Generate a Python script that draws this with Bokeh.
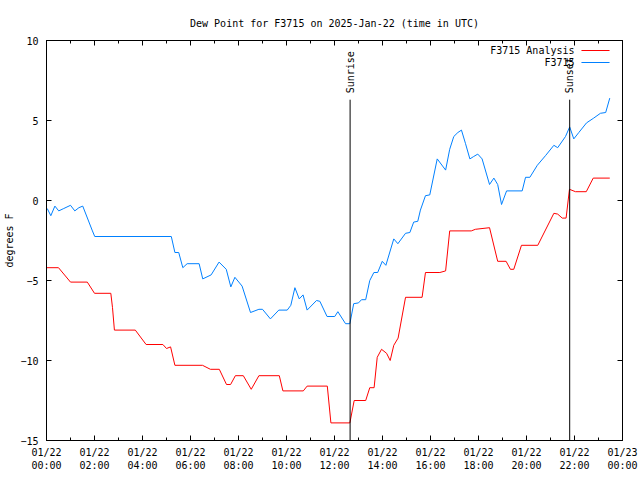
from datetime import datetime, timedelta
import math
from bokeh.plotting import figure
from bokeh.models import (Range1d, LinearAxis, DatetimeAxis, FixedTicker,
                          CustomJSTickFormatter, ColumnDataSource)
from bokeh.core.properties import value
from bokeh.embed import file_html
from bokeh.resources import INLINE

BASE = datetime(2025, 1, 22)

# F3715 Analysis (red): hours after 00:00 UTC, dew point (F)
analysis_hours = [0.0, 0.5, 1.0, 1.7, 2.0, 2.68, 2.75, 2.83, 3.7, 4.15, 4.85, 5.0, 5.17,
                  5.35, 6.5, 6.83, 7.2, 7.5, 7.67, 7.87, 8.2, 8.53, 8.85, 9.7, 9.85,
                  10.7, 10.86, 11.7, 11.85, 12.64, 12.82, 13.3, 13.47, 13.65, 13.78,
                  13.96, 14.17, 14.32, 14.47, 14.65, 14.96, 15.65, 15.79, 16.39, 16.63,
                  16.8, 17.7, 17.87, 18.46, 18.8, 19.15, 19.33, 19.47, 19.79, 20.47,
                  21.14, 21.3, 21.49, 21.65, 21.79, 22.04, 22.49, 22.78, 23.47]
analysis_dew = [-4.2, -4.2, -5.1, -5.1, -5.8, -5.8, -6.7, -8.1, -8.1, -9.0, -9.0, -9.25, -9.15,
                -10.3, -10.3, -10.55, -10.55, -11.5, -11.5, -10.95, -10.95, -11.8, -10.95, -10.95, -11.9,
                -11.9, -11.6, -11.6, -13.9, -13.9, -12.5, -12.5, -11.7, -11.7, -9.8,
                -9.3, -9.55, -10.0, -9.05, -8.6, -6.05, -6.05, -4.5, -4.5, -4.4,
                -1.9, -1.9, -1.8, -1.7, -3.8, -3.8, -4.3, -4.3, -2.8, -2.8,
                -0.8, -0.85, -1.1, -1.1, 0.7, 0.55, 0.55, 1.4, 1.4]

# F3715 observed (blue)
obs_hours = [0.03, 0.18, 0.35, 0.51, 0.72, 1.0, 1.18, 1.35, 1.51, 1.9, 2.01, 5.2, 5.35,
             5.51, 5.68, 5.86, 6.36, 6.51, 6.86, 7.19, 7.49, 7.68, 7.85, 8.15, 8.5,
             8.85, 9.0, 9.33, 9.68, 10.03, 10.18, 10.35, 10.53, 10.69, 10.86, 11.25,
             11.39, 11.69, 12.01, 12.14, 12.46, 12.64, 12.8, 13.0, 13.125, 13.3, 13.47,
             13.64, 13.8, 13.99, 14.14, 14.47, 14.64, 14.96, 15.14, 15.3, 15.47, 15.58,
             15.79, 15.97, 16.28, 16.63, 16.8, 16.97, 17.14, 17.29, 17.46, 17.64, 17.8,
             17.97, 18.15, 18.46, 18.64, 18.8, 18.96, 19.17, 19.82, 19.96, 20.14, 20.45,
             20.79, 21.14, 21.3, 21.625, 21.8, 21.97, 22.18, 22.5, 22.8, 23.08, 23.3, 23.47]
obs_dew = [-0.5, -0.95, -0.35, -0.65, -0.5, -0.3, -0.65, -0.45, -0.35, -1.85, -2.25, -2.25, -3.25,
           -3.25, -4.2, -3.95, -3.95, -4.9, -4.65, -3.85, -4.3, -5.4, -4.8, -5.35, -7.0,
           -6.8, -6.8, -7.4, -6.85, -6.85, -6.55, -5.45, -6.15, -5.9, -6.85, -6.25,
           -6.3, -7.25, -7.25, -6.95, -7.7, -7.7, -6.45, -6.4, -6.2, -6.2, -5.0,
           -4.5, -4.5, -3.8, -4.05, -2.4, -2.7, -2.05, -2.0, -1.35, -1.3, -0.6,
           0.3, 0.35, 2.6, 1.9, 3.2, 4.0, 4.25, 4.4, 3.55, 2.6, 2.75,
           2.9, 2.6, 1.0, 1.4, 1.0, -0.25, 0.6, 0.6, 1.45, 1.45, 2.2,
           2.8, 3.45, 3.3, 4.0, 4.6, 3.85, 4.25, 4.85, 5.15, 5.45, 5.5, 6.4]

sun_hours = [12.65, 21.8]
sun_labels = ["Sunrise", "Sunset"]

series_names = ["F3715 Analysis", "F3715"]
series_colors = ["#ff0000", "#0080ff"]

tick_hours = [0, 2, 4, 6, 8, 10, 12, 14, 16, 18, 20, 22, 24]
tick_labels = ["01/22\n00:00", "01/22\n02:00", "01/22\n04:00", "01/22\n06:00",
               "01/22\n08:00", "01/22\n10:00", "01/22\n12:00", "01/22\n14:00",
               "01/22\n16:00", "01/22\n18:00", "01/22\n20:00", "01/22\n22:00",
               "01/23\n00:00"]
y_ticks = [-15, -10, -5, 0, 5, 10]

EPOCH = datetime(1970, 1, 1)


def to_dt(h):
    return BASE + timedelta(hours=h)


def to_ms(h):
    return (to_dt(h) - EPOCH).total_seconds() * 1000.0


FONT = "DejaVu Sans Mono"
FS = "10px"

p = figure(width=640, height=480, output_backend="svg", toolbar_location=None,
           x_axis_type="datetime",
           x_range=Range1d(to_dt(0), to_dt(24)), y_range=Range1d(-15, 10),
           min_border_left=46, min_border_right=18, min_border_top=40,
           min_border_bottom=40)
p.background_fill_color = "white"
p.border_fill_color = "white"
p.outline_line_color = "black"
p.xgrid.visible = False
p.ygrid.visible = False

p.title.text = "Dew Point for F3715 on 2025-Jan-22 (time in UTC)"
p.title.align = "center"
p.title.text_font = FONT
p.title.text_font_size = FS
p.title.text_font_style = "normal"
p.title.text_color = "black"
p.title.standoff = 24

major_ms = [to_ms(h) for h in tick_hours]
minor_ms = [to_ms(h) for h in range(0, 25)]
xt = FixedTicker(ticks=major_ms, minor_ticks=minor_ms)
yt = FixedTicker(ticks=y_ticks, minor_ticks=[])


def style_axis(ax):
    ax.axis_line_color = "black"
    ax.major_tick_line_color = "black"
    ax.minor_tick_line_color = "black"
    ax.major_tick_in = 5
    ax.major_tick_out = 0
    ax.minor_tick_in = 3
    ax.minor_tick_out = 0
    ax.major_label_text_font = FONT
    ax.major_label_text_font_size = FS
    ax.major_label_text_color = "black"
    ax.axis_label_text_font = FONT
    ax.axis_label_text_font_size = FS
    ax.axis_label_text_font_style = "normal"
    ax.axis_label_text_color = "black"


xa = p.xaxis[0]
xa.ticker = xt
xa.major_label_overrides = {ms: lab for ms, lab in zip(major_ms, tick_labels)}
style_axis(xa)
xa.major_label_standoff = 6

ya = p.yaxis[0]
ya.ticker = yt
style_axis(ya)
ya.axis_label = "degrees F"
ya.major_label_standoff = 8
ya.axis_label_standoff = 2

empty = CustomJSTickFormatter(code="return ''")
top = DatetimeAxis(ticker=xt, formatter=empty)
style_axis(top)
top.major_label_standoff = 0
p.add_layout(top, "above")
right = LinearAxis(ticker=yt, formatter=empty)
style_axis(right)
right.major_label_standoff = 0
p.add_layout(right, "right")

# series
p.line([to_dt(h) for h in analysis_hours], analysis_dew, line_color=series_colors[0], line_width=1)
p.line([to_dt(h) for h in obs_hours], obs_dew, line_color=series_colors[1], line_width=1)

# sunrise / sunset markers
sun_src = ColumnDataSource(dict(x=[to_dt(h) for h in sun_hours],
                                y0=[-15] * len(sun_hours),
                                y1=[6.3] * len(sun_hours),
                                ylab=[6.7] * len(sun_hours),
                                label=sun_labels))
p.segment(x0="x", y0="y0", x1="x", y1="y1", source=sun_src, line_color="black", line_width=1)
p.text(x="x", y="ylab", text="label", source=sun_src, angle=math.pi / 2,
       text_align="left", text_baseline="middle", text_font=value(FONT),
       text_font_size=FS, text_color="black")

# key (gnuplot style: label then sample, top right)
key_y = [9.375, 8.625]
key_src = ColumnDataSource(dict(x=[to_dt(22.0)] * 2, y=key_y, label=series_names,
                                sx0=[to_dt(22.29)] * 2, sx1=[to_dt(23.46)] * 2,
                                color=series_colors))
p.text(x="x", y="y", text="label", source=key_src, text_align="right",
       text_baseline="middle", text_font=value(FONT), text_font_size=FS,
       text_color="black")
p.segment(x0="sx0", y0="y", x1="sx1", y1="y", source=key_src, line_color="color", line_width=1)

open("out.html", "w").write(file_html(p, INLINE))
